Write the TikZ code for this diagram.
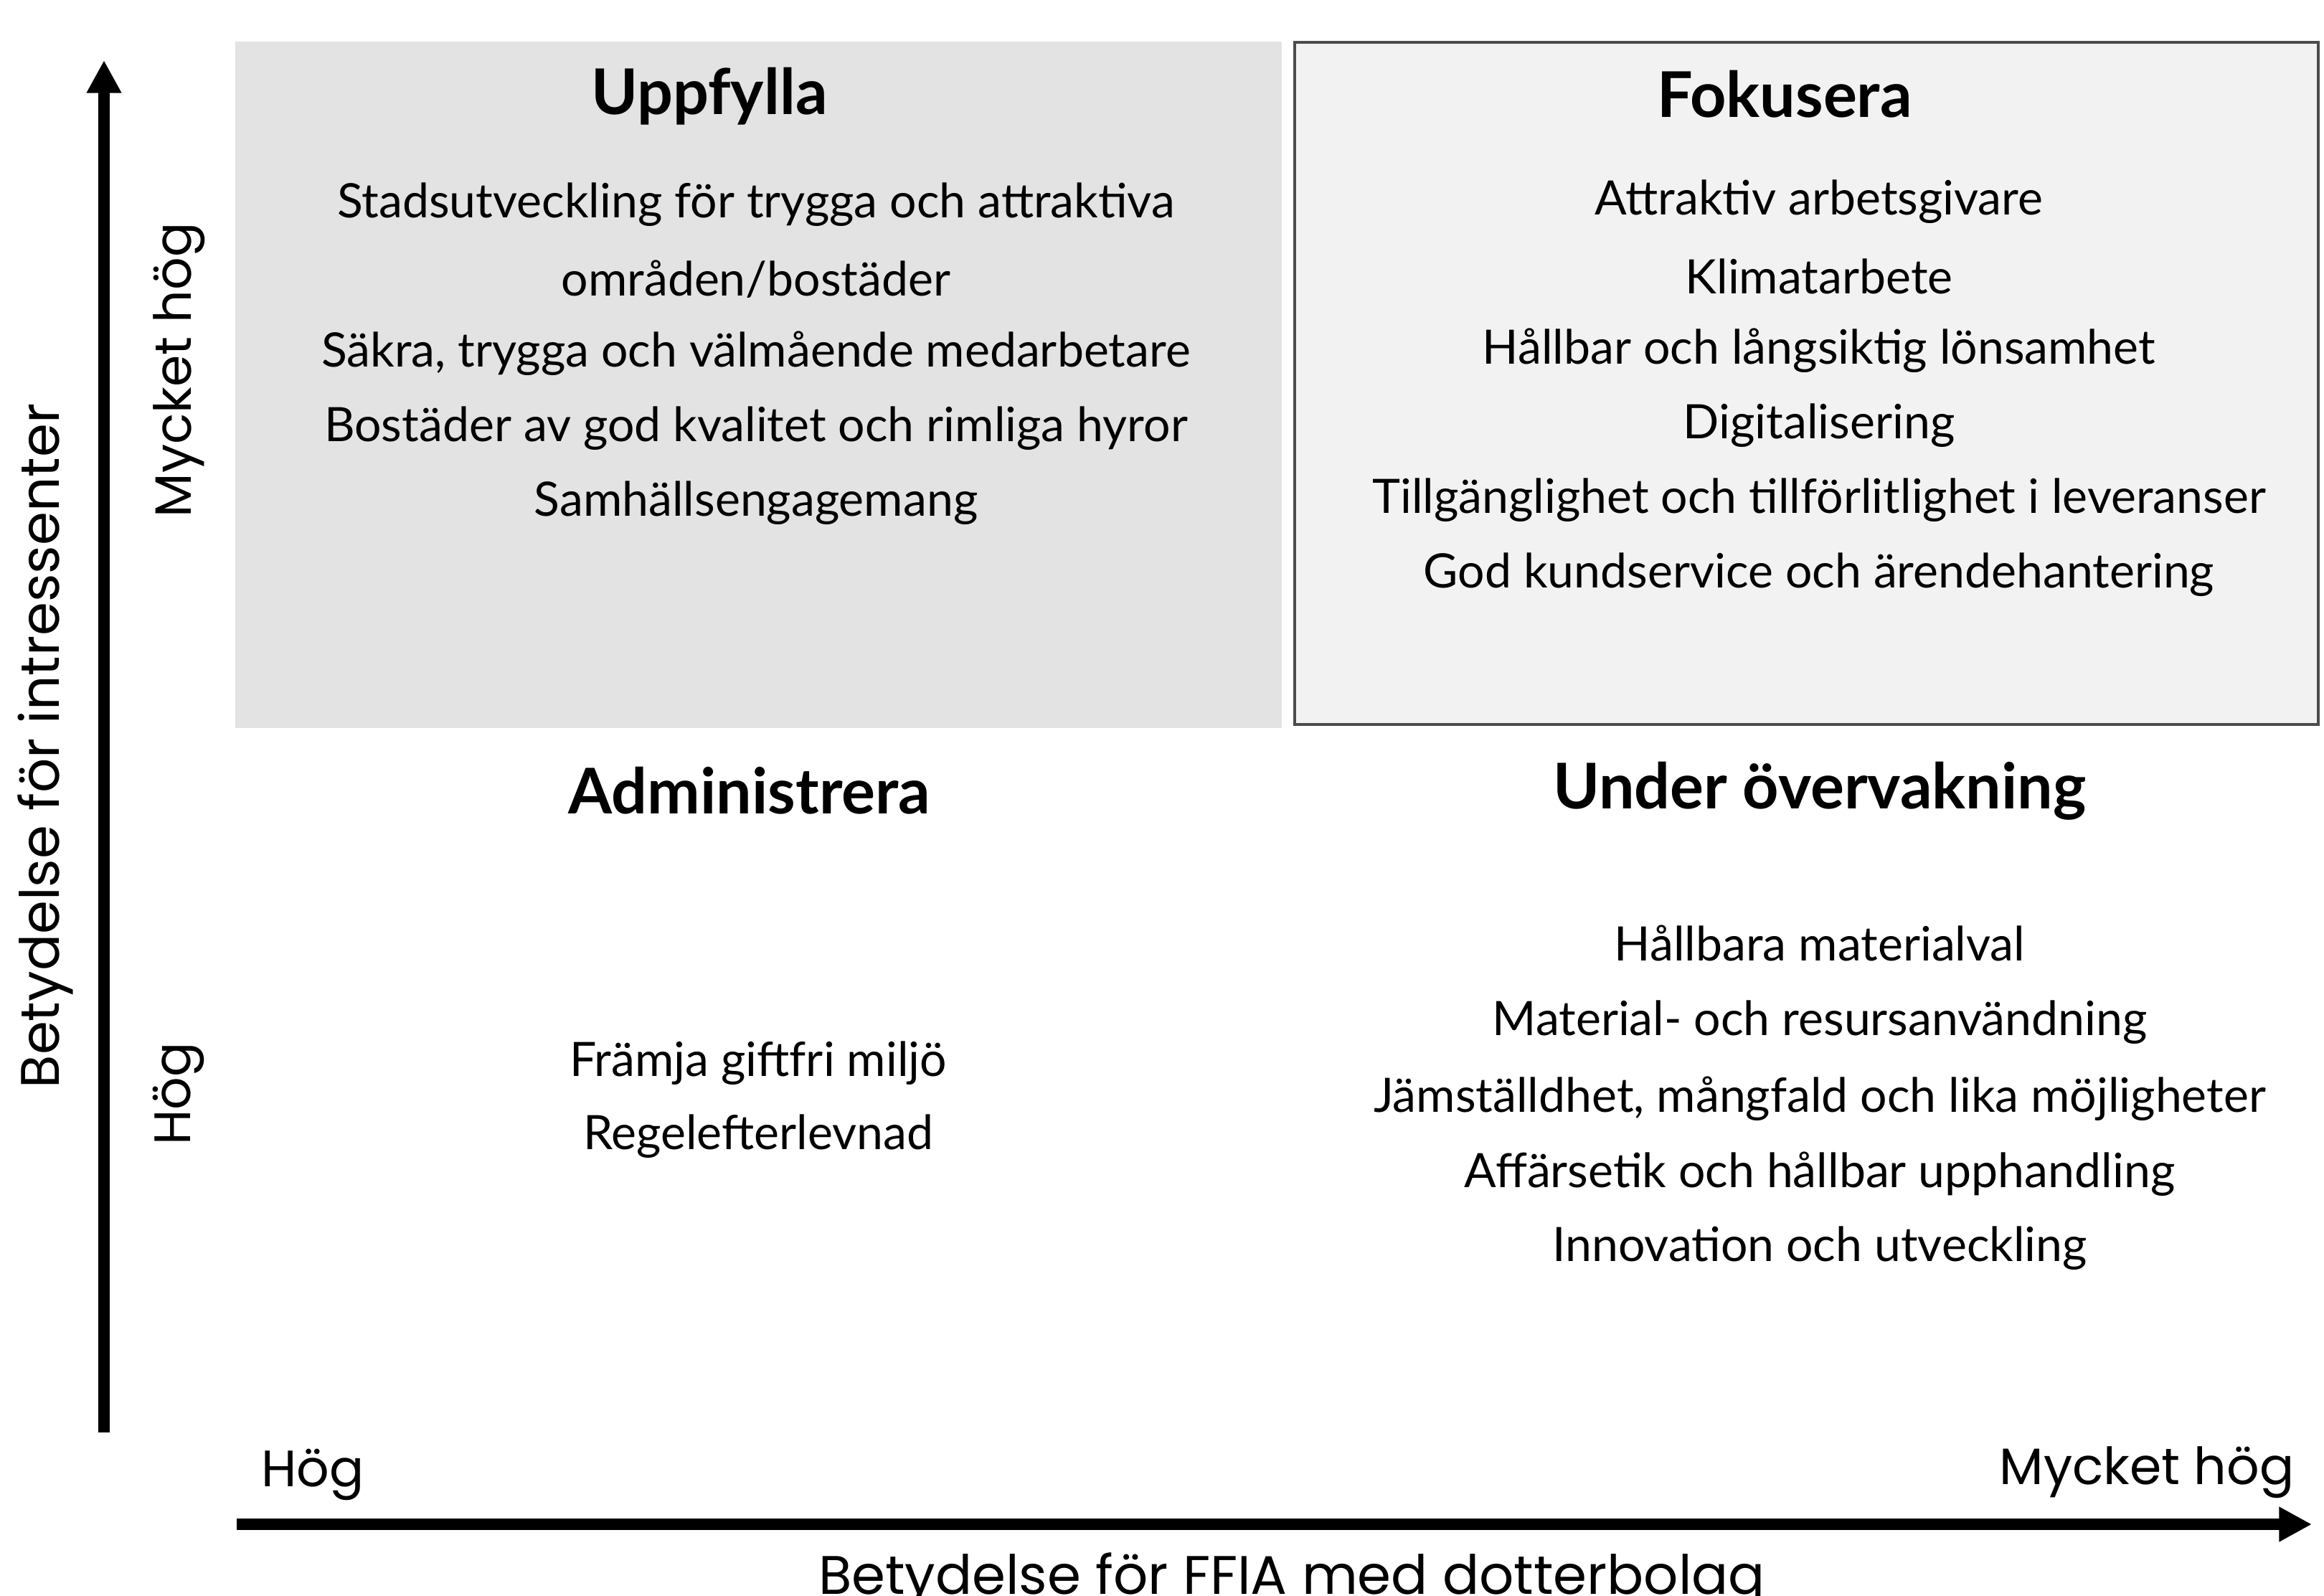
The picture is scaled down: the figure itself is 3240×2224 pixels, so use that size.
\documentclass[tikz,border=0pt]{standalone}
\usepackage{fontspec}
\setmainfont{Lato}
\newfontfamily\axisfont{Poppins}
\usetikzlibrary{arrows.meta}
\begin{document}
\begin{tikzpicture}[x=0.01cm,y=-0.01cm,
  quadtext/.style={font=\fontsize{18.8}{20}\selectfont, inner sep=0pt, anchor=center},
  quadhead/.style={font=\fontsize{25}{27}\selectfont\bfseries, inner sep=0pt, anchor=center},
  axislabel/.style={font=\axisfont\fontsize{20.3}{22}\selectfont, inner sep=0pt},
  axistitle/.style={font=\axisfont\fontsize{21.5}{23}\selectfont, inner sep=0pt},
  axisarrow/.style={line width=4.6pt, -{Triangle[width=13pt,length=13pt]}},
  shadedquad/.style={fill=black!11, draw=none},
  boxedquad/.style={fill=black!5, draw=black!70, line width=0.9pt},
]
\useasboundingbox (0,0) rectangle (3240,2224);
% quadrant backgrounds
\path[shadedquad] (328,58) rectangle (1787,1015);
\path[boxedquad] (1805,59) rectangle (3232,1010);

% axes
\coordinate (ybot) at (145,1997);
\coordinate (ytop) at (145,84);
\coordinate (xleft) at (330,2125);
\coordinate (xright) at (3223,2125);
\draw[axisarrow] (ybot) -- (ytop);
\draw[axisarrow] (xleft) -- (xright);

% axis labels
\node[axistitle, rotate=90] (ytitle) at (63,1040) {Betydelse för intressenter};
\node[axislabel, rotate=90] (yhigh) at (250,516) {Mycket hög};
\node[axislabel, rotate=90] (ylow) at (249,1525) {Hög};
\node[axislabel] (xlow) at (436,2056) {Hög};
\node[axislabel] (xhigh) at (2993,2053) {Mycket hög};
\node[axistitle, anchor=base] (xtitle) at (1801,2222) {Betydelse för FFIA med dotterbolag};

% Uppfylla
\node[quadhead] (h1) at (989,134) {Uppfylla};
\node[quadtext] (a1) at (1054,285) {Stadsutveckling för trygga och attraktiva};
\node[quadtext] (a2) at (1054,389) {områden/bostäder};
\node[quadtext] (a3) at (1054,493) {Säkra, trygga och välmående medarbetare};
\node[quadtext] (a4) at (1054,597) {Bostäder av god kvalitet och rimliga hyror};
\node[quadtext] (a5) at (1054,701) {Samhällsengagemang};

% Fokusera
\node[quadhead] (h2) at (2488,131) {Fokusera};
\node[quadtext] (b1) at (2536,281) {Attraktiv arbetsgivare};
\node[quadtext] (b2) at (2536,385) {Klimatarbete};
\node[quadtext] (b3) at (2536,489) {Hållbar och långsiktig lönsamhet};
\node[quadtext] (b4) at (2536,593) {Digitalisering};
\node[quadtext] (b5) at (2536,697) {Tillgänglighet och tillförlitlighet i leveranser};
\node[quadtext] (b6) at (2536,801) {God kundservice och ärendehantering};

% Administrera
\node[quadhead] (h3) at (1045,1102) {Administrera};
\node[quadtext] (c1) at (1057,1482) {Främja giftfri miljö};
\node[quadtext] (c2) at (1057,1584) {Regelefterlevnad};

% Under övervakning
\node[quadhead] (h4) at (2537,1103) {Under övervakning};
\node[quadtext] (d1) at (2537,1315) {Hållbara materialval};
\node[quadtext] (d2) at (2537,1425) {Material- och resursanvändning};
\node[quadtext] (d3) at (2537,1532) {Jämställdhet, mångfald och lika möjligheter};
\node[quadtext] (d4) at (2537,1637) {Affärsetik och hållbar upphandling};
\node[quadtext] (d5) at (2537,1740) {Innovation och utveckling};
\end{tikzpicture}
\end{document}
